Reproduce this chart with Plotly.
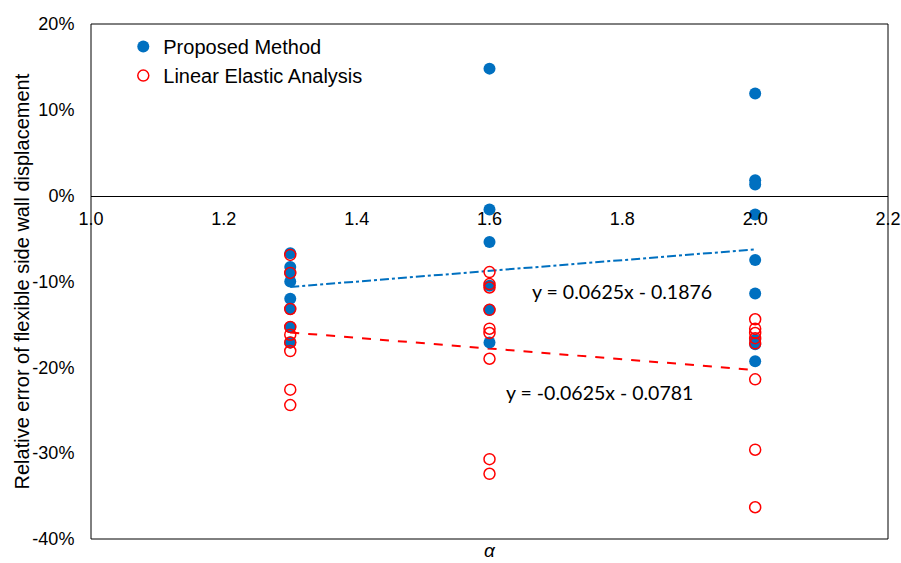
import numpy as np
import plotly.graph_objects as go

# alpha values of the three test groups
alpha_groups = [1.3, 1.6, 2.0]

# relative errors (fractions) of the proposed method, per alpha group
proposed_13 = [-0.067, -0.083, -0.090, -0.100, -0.120, -0.132, -0.153, -0.171]
proposed_16 = [0.148, -0.016, -0.054, -0.105, -0.133, -0.171]
proposed_20 = [0.119, 0.018, 0.013, -0.022, -0.075, -0.114, -0.168, -0.173, -0.193]

# relative errors (fractions) of the linear elastic analysis, per alpha group
linear_13 = [-0.069, -0.090, -0.132, -0.153, -0.162, -0.171, -0.181, -0.226, -0.244]
linear_16 = [-0.089, -0.103, -0.107, -0.133, -0.155, -0.160, -0.190, -0.307, -0.324]
linear_20 = [-0.144, -0.155, -0.160, -0.166, -0.172, -0.214, -0.296, -0.363]

# linear trend coefficients (slope, intercept)
proposed_trend = (0.0625, -0.1876)
linear_trend = (-0.0625, -0.0781)
trend_x = [1.3, 2.0]

y_ticks = [-0.4, -0.3, -0.2, -0.1, 0.0, 0.1, 0.2]
y_tick_labels = ["-40%", "-30%", "-20%", "-10%", "0%", "10%", "20%"]
x_ticks = [1.0, 1.2, 1.4, 1.6, 1.8, 2.0, 2.2]
x_tick_labels = ["1.0", "1.2", "1.4", "1.6", "1.8", "2.0", "2.2"]

BLUE = "#0070C0"
RED = "#FF0000"
FONT = "Liberation Sans, Arial, sans-serif"
EQ_FONT = "Lato, sans-serif"


def group_xy(groups, values):
    xs, ys = [], []
    for a, vals in zip(groups, values):
        xs += [a] * len(vals)
        ys += list(vals)
    return xs, ys


px, py = group_xy(alpha_groups, [proposed_13, proposed_16, proposed_20])
lx, ly = group_xy(alpha_groups, [linear_13, linear_16, linear_20])

fig = go.Figure()

fig.add_trace(go.Scatter(
    x=trend_x, y=[proposed_trend[0] * v + proposed_trend[1] for v in trend_x],
    mode="lines", line=dict(color=BLUE, width=2, dash="dashdot"),
    showlegend=False, hoverinfo="skip"))
fig.add_trace(go.Scatter(
    x=trend_x, y=[linear_trend[0] * v + linear_trend[1] for v in trend_x],
    mode="lines", line=dict(color=RED, width=2, dash="dash"),
    showlegend=False, hoverinfo="skip"))

fig.add_trace(go.Scatter(
    x=px, y=py, mode="markers", name="Proposed Method",
    marker=dict(symbol="circle", size=12, color=BLUE, line=dict(width=0))))
fig.add_trace(go.Scatter(
    x=lx, y=ly, mode="markers", name="Linear Elastic Analysis",
    marker=dict(symbol="circle-open", size=11, color=RED, line=dict(width=1.5, color=RED))))


def eq_text(slope, intercept):
    sign = "-" if intercept < 0 else "+"
    return f"y = {slope:.4f}x {sign} {abs(intercept):.4f}"


fig.add_annotation(x=1.80, y=-0.112, text=eq_text(*proposed_trend), showarrow=False,
                   font=dict(family=EQ_FONT, size=19.5, color="black"))
fig.add_annotation(x=1.765, y=-0.229, text=eq_text(*linear_trend), showarrow=False,
                   font=dict(family=EQ_FONT, size=19.5, color="black"))

# axis titles
fig.add_annotation(x=0.5, y=-0.0214, xref="paper", yref="paper",
                   xanchor="center", yanchor="middle",
                   text="<i>α</i>", showarrow=False,
                   font=dict(family=FONT, size=19, color="black"))
fig.add_annotation(x=-0.0866, y=0.5, xref="paper", yref="paper",
                   xanchor="center", yanchor="middle",
                   text="Relative error of flexible side wall displacement",
                   textangle=-90, showarrow=False,
                   font=dict(family=FONT, size=20, color="black"))

# plot frame
fig.add_shape(type="rect", xref="paper", yref="paper", x0=0, y0=0, x1=1, y1=1,
              line=dict(color="black", width=1), layer="above")

fig.update_layout(
    width=901, height=563,
    margin=dict(l=91, r=13, t=24, b=24),
    plot_bgcolor="white", paper_bgcolor="white",
    font=dict(family=FONT, size=18, color="black"),
    showlegend=True,
    legend=dict(x=0.0405, y=0.994, xanchor="left", yanchor="top",
                bgcolor="rgba(0,0,0,0)", font=dict(size=20), itemwidth=30,
                tracegroupgap=0),
    xaxis=dict(range=[1.0, 2.2], tickvals=x_ticks, ticktext=x_tick_labels,
               anchor="free", position=2 / 3, showline=True, linecolor="black", linewidth=1,
               showgrid=False, zeroline=False, ticks="outside", ticklen=7,
               tickcolor="rgba(0,0,0,0)", tickfont=dict(size=18), automargin=False),
    yaxis=dict(range=[-0.4, 0.2], tickvals=y_ticks, ticktext=y_tick_labels,
               showgrid=False, zeroline=False, showline=False,
               ticks="outside", ticklen=12, tickcolor="rgba(0,0,0,0)",
               tickfont=dict(size=18), automargin=False),
)

fig.write_html("out.html")
